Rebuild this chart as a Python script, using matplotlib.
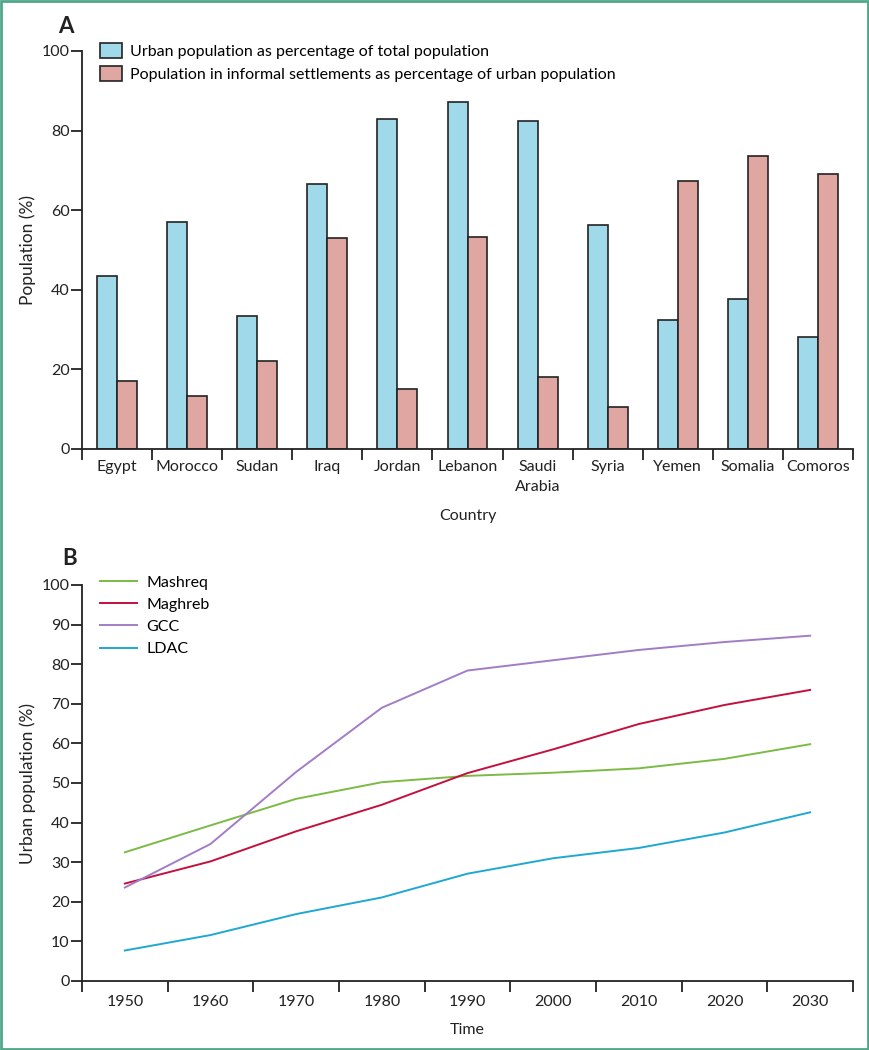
import numpy as np
import matplotlib.pyplot as plt
from matplotlib.patches import Rectangle

plt.rcParams['font.family'] = ['Lato', 'DejaVu Sans']

# Panel A data
countries = ['Egypt', 'Morocco', 'Sudan', 'Iraq', 'Jordan', 'Lebanon',
             'Saudi\nArabia', 'Syria', 'Yemen', 'Somalia', 'Comoros']
urban_pct = [43.5, 57.0, 33.3, 66.6, 82.8, 87.3, 82.5, 56.2, 32.3, 37.8, 28.1]
informal_pct = [17.2, 13.2, 22.2, 53.0, 15.2, 53.2, 18.1, 10.5, 67.3, 73.6, 69.0]

# Panel B data
years = [1950, 1960, 1970, 1980, 1990, 2000, 2010, 2020, 2030]
mashreq = [32.5, 39.3, 46.0, 50.2, 51.8, 52.6, 53.7, 56.1, 59.8]
maghreb = [24.6, 30.2, 37.8, 44.5, 52.5, 58.5, 64.9, 69.7, 73.5]
gcc = [23.6, 34.6, 52.8, 69.0, 78.4, 81.0, 83.6, 85.6, 87.2]
ldac = [7.7, 11.6, 16.9, 21.1, 27.1, 31.0, 33.6, 37.5, 42.6]

c_blue = '#a0d9e9'
c_pink = '#e0a6a1'
line_cols = ['#7bbb45', '#c3103f', '#a27dc6', '#1ea8d2']

fig = plt.figure(figsize=(8.69, 10.5), dpi=100)
fs = 11.5
fs_lab = 12.5

def style(ax):
    for s in ['top', 'right']:
        ax.spines[s].set_visible(False)
    for s in ['left', 'bottom']:
        ax.spines[s].set_linewidth(1.3)
        ax.spines[s].set_color('#222222')
    ax.tick_params(axis='y', length=8, width=1.3, labelsize=fs, colors='#222222', pad=1)
    ax.tick_params(axis='x', which='both', labelsize=fs, colors='#222222')

# ---- Panel A ----
axA = fig.add_axes([82/869, 1-449/1050, 771/869, 398/1050])
x = np.arange(len(countries))
w = 0.285
axA.bar(x - w/2, urban_pct, w, color=c_blue, edgecolor='#222222', linewidth=1.2,
        label='Urban population as percentage of total population')
axA.bar(x + w/2, informal_pct, w, color=c_pink, edgecolor='#222222', linewidth=1.2,
        label='Population in informal settlements as percentage of urban population')
axA.set_xlim(-0.5, len(countries) - 0.5)
axA.set_ylim(0, 100)
axA.set_yticks([0, 20, 40, 60, 80, 100])
style(axA)
axA.set_xticks(np.arange(len(countries) + 1) - 0.5, minor=False)
axA.set_xticklabels([])
axA.tick_params(axis='x', which='major', length=8, width=1.3, direction='out')
axA.set_xticks(x, minor=True)
axA.set_xticklabels(countries, minor=True, linespacing=1.55)
axA.tick_params(axis='x', which='minor', length=0, pad=8)
axA.set_ylabel('Population (%)', fontsize=fs_lab, color='#222222', labelpad=4)
axA.set_xlabel('Country', fontsize=fs, color='#222222', labelpad=11)
axA.legend(loc='upper left', bbox_to_anchor=(0.015, 1.035), frameon=False, fontsize=fs,
           handlelength=1.4, handleheight=1.0, handletextpad=0.5, labelspacing=0.45,
           borderaxespad=0)
fig.text(58/869, 1-16/1050, 'A', fontsize=16, fontweight='bold', va='top', ha='left',
         color='#222222')

# ---- Panel B ----
axB = fig.add_axes([82/869, 1-981/1050, 771/869, 396/1050])
names = ['Mashreq', 'Maghreb', 'GCC', 'LDAC']
for series, name, col in zip([mashreq, maghreb, gcc, ldac], names, line_cols):
    axB.plot(years, series, color=col, linewidth=1.4, label=name)
axB.set_xlim(1945, 2035)
axB.set_ylim(0, 100)
axB.set_yticks(np.arange(0, 101, 10))
style(axB)
axB.set_xticks(np.arange(1945, 2036, 10))
axB.set_xticklabels([])
axB.tick_params(axis='x', which='major', length=8, width=1.3, direction='out')
axB.set_xticks(years, minor=True)
axB.set_xticklabels([str(y) for y in years], minor=True)
axB.tick_params(axis='x', which='minor', length=0, pad=10)
axB.set_ylabel('Urban population (%)', fontsize=fs_lab, color='#222222', labelpad=4)
axB.set_xlabel('Time', fontsize=fs, color='#222222', labelpad=10)
axB.legend(loc='upper left', bbox_to_anchor=(0.015, 1.04), frameon=False, fontsize=fs,
           handlelength=2.3, handletextpad=0.6, labelspacing=0.5, borderaxespad=0)
fig.text(62/869, 1-548/1050, 'B', fontsize=16, fontweight='bold', va='top', ha='left',
         color='#222222')

# green frame
fig.patches.append(Rectangle((0.001, 0.001), 0.998, 0.998, transform=fig.transFigure,
                             fill=False, edgecolor='#4ea888', linewidth=2))

fig.savefig('out.png', dpi=100)
